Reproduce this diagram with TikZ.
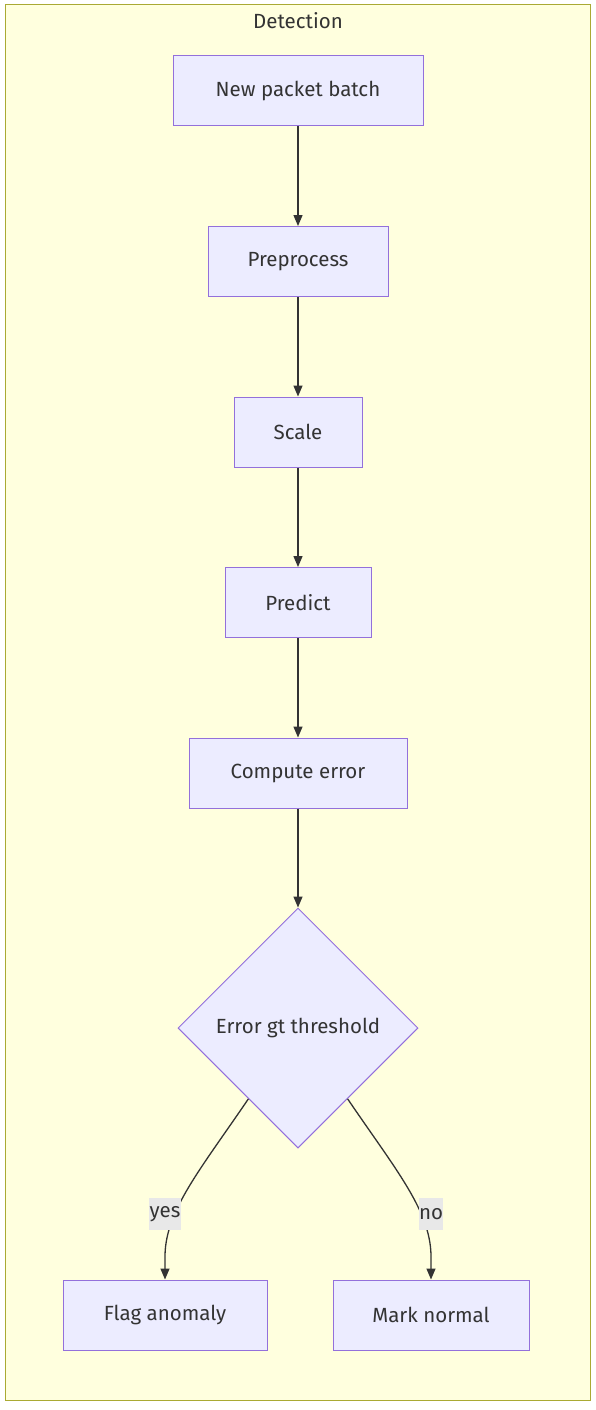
\documentclass[tikz,border=0pt]{standalone}
\usepackage{fontspec}
\setmainfont{Fira Sans}
\usetikzlibrary{arrows.meta,shapes.geometric,calc}
\definecolor{boxfill}{HTML}{ECECFF}
\definecolor{boxline}{HTML}{9370DB}
\definecolor{grpfill}{HTML}{FFFFDE}
\definecolor{grpline}{HTML}{AAAA33}
\definecolor{ink}{HTML}{333333}
\definecolor{lblbg}{HTML}{E8E8E8}
\tikzset{
  txt/.style={text=ink, font=\fontsize{20.5}{24}\selectfont},
  stepbox/.style={txt, draw=boxline, fill=boxfill, line width=1pt, inner sep=0pt},
  decide/.style={txt, diamond, draw=boxline, fill=boxfill, line width=1pt, inner sep=0pt, minimum width=240pt, minimum height=240pt},
  flow/.style={draw=ink, line width=1.3pt, -{Triangle[length=11pt,width=9pt]}},
  elabel/.style={txt, fill=lblbg, inner xsep=0.5pt, inner ysep=0pt, minimum height=32pt},
}
\begin{document}
\begin{tikzpicture}[x=1pt,y=-1pt]
\useasboundingbox (0,0) rectangle (596,1410);
\node[draw=grpline, fill=grpfill, line width=1pt, minimum width=585pt, minimum height=1395pt, inner sep=0pt] (grp) at (297.5,702.5) {};
\node[txt] (title) at (298,21) {Detection};
\node[stepbox, minimum width=250pt, minimum height=70pt] (a) at (298,91) {New packet batch};
\node[stepbox, minimum width=180pt, minimum height=70pt] (b) at (298,261.5) {Preprocess};
\node[stepbox, minimum width=128pt, minimum height=70pt] (c) at (298,432) {Scale};
\node[stepbox, minimum width=146pt, minimum height=70pt] (d) at (298,602.5) {Predict};
\node[stepbox, minimum width=218pt, minimum height=70pt] (e) at (298,773) {Compute error};
\node[decide] (f) at (298,1028) {Error gt threshold};
\node[stepbox, minimum width=204pt, minimum height=70pt] (g) at (165,1315) {Flag anomaly};
\node[stepbox, minimum width=196pt, minimum height=70pt] (h) at (431,1315) {Mark normal};
\draw[flow] (a) -- (b);
\draw[flow] (b) -- (c);
\draw[flow] (c) -- (d);
\draw[flow] (d) -- (e);
\draw[flow] (e) -- (f.north);
\draw[flow] (f.235) .. controls (200,1170) and (166,1210) .. (165,1255) -- (g.north);
\draw[flow] (f.305) .. controls (396,1170) and (430,1210) .. (431,1255) -- (h.north);
\node[elabel] (ly) at (165,1214) {yes};
\node[elabel] (ln) at (431,1214) {no};
\end{tikzpicture}
\end{document}
